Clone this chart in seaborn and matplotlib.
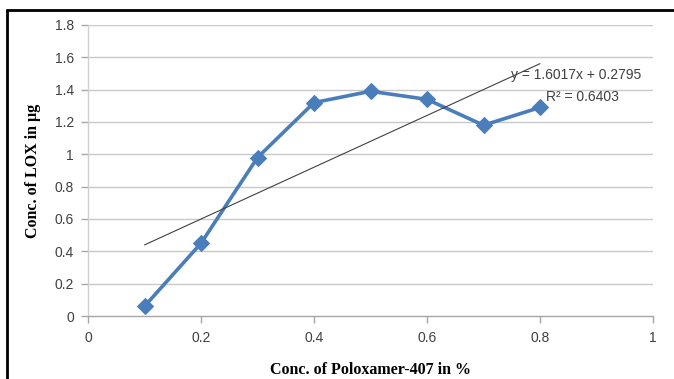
import numpy as np
import pandas as pd
import seaborn as sns
import matplotlib
matplotlib.use("Agg")
import matplotlib.pyplot as plt
from matplotlib.lines import Line2D

conc_poloxamer = [0.1, 0.2, 0.3, 0.4, 0.5, 0.6, 0.7, 0.8]
conc_lox = [0.06, 0.45, 0.98, 1.32, 1.39, 1.34, 1.18, 1.29]
slope = 1.6017
intercept = 0.2795
r_squared = 0.6403
x_ticks = [0, 0.2, 0.4, 0.6, 0.8, 1]
y_ticks = [0, 0.2, 0.4, 0.6, 0.8, 1, 1.2, 1.4, 1.6, 1.8]
x_tick_labels = ["0", "0.2", "0.4", "0.6", "0.8", "1"]
y_tick_labels = ["0", "0.2", "0.4", "0.6", "0.8", "1", "1.2", "1.4", "1.6", "1.8"]

sns.set_theme(style="white")
plt.rcParams['font.family'] = ['DejaVu Sans']

df = pd.DataFrame({"x": conc_poloxamer, "y": conc_lox})

fig = plt.figure(figsize=(6.74, 3.79), dpi=100)
ax = fig.add_axes([88/674, 1-316/379, (653-88)/674, (316-25)/379])

grid_c = "#c8c8c8"
for yt in y_ticks[1:]:
    ax.axhline(yt, color=grid_c, lw=1.0, zorder=0)

sns.lineplot(data=df, x="x", y="y", ax=ax, color="#4a7ebb", lw=2.6,
             marker="D", markersize=8.5, markeredgecolor="#4a7ebb", zorder=3)

trend_x = np.array([conc_poloxamer[0], conc_poloxamer[-1]])
trend_y = slope * trend_x + intercept
ax.plot(trend_x, trend_y, color="#404040", lw=0.8, zorder=4)

ax.text(0.748, 1.49, f"y = {slope}x + {intercept}", fontsize=10, color="#404040",
        va="center", ha="left", family="Liberation Sans", zorder=5)
ax.text(0.81, 1.355, f"R² = {r_squared}", fontsize=10, color="#404040",
        va="center", ha="left", family="Liberation Sans", zorder=5)

ax.set_xlim(0, 1)
ax.set_ylim(0, 1.8)
ax.set_xticks(x_ticks)
ax.set_xticklabels(x_tick_labels)
ax.set_yticks(y_ticks)
ax.set_yticklabels(y_tick_labels)

for s in ["top", "right"]:
    ax.spines[s].set_visible(False)
ax.spines["bottom"].set_color("#a6a6a6")
ax.spines["left"].set_color("#d0d0d0")
ax.spines["bottom"].set_linewidth(1.0)
ax.spines["left"].set_linewidth(1.0)

ax.tick_params(axis="x", which="major", direction="out", length=5, width=1,
               color="#a6a6a6", labelsize=10, labelcolor="#404040", pad=6, bottom=True)
ax.tick_params(axis="y", which="major", direction="out", length=5, width=1,
               color="#a6a6a6", labelsize=10, labelcolor="#404040", pad=5, left=True)
for lab in ax.get_xticklabels() + ax.get_yticklabels():
    lab.set_family("Liberation Sans")

ax.set_xlabel("Conc. of Poloxamer-407 in %", family="Liberation Serif",
              fontweight="bold", fontsize=11.5, color="black", labelpad=12)
ax.set_ylabel("Conc. of LOX in µg", family="Liberation Serif",
              fontweight="bold", fontsize=11.5, color="black", labelpad=10)

# outer frame (left and top edges)
fig.add_artist(Line2D([7/674, 7/674], [0, 1-10/379], transform=fig.transFigure,
                      color="black", lw=2.0))
fig.add_artist(Line2D([7/674, 1], [1-10/379, 1-10/379], transform=fig.transFigure,
                      color="black", lw=2.0))

fig.savefig("out.png", dpi=100)
